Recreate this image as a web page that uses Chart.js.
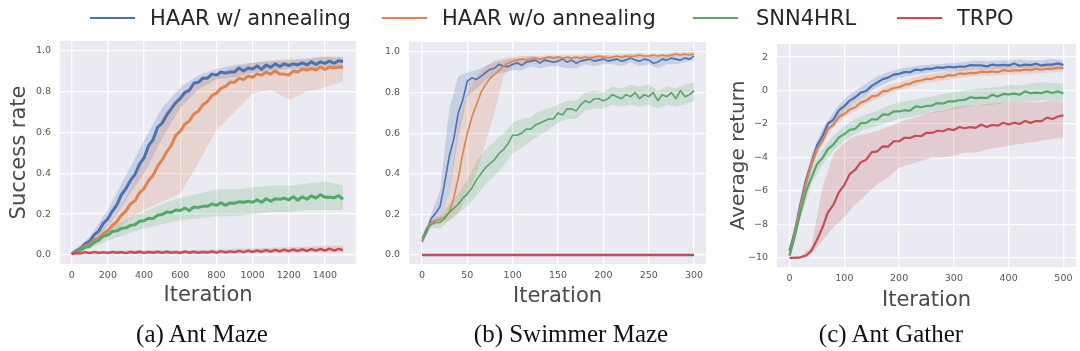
<!DOCTYPE html>
<html>
<head>
<meta charset="utf-8">
<script src="https://cdn.jsdelivr.net/npm/chart.js@4.4.1/dist/chart.umd.min.js"></script>
<style>
  html, body { margin:0; padding:0; background:#fff; }
  body { width:1080px; height:351px; position:relative; overflow:hidden; font-family:"DejaVu Sans", sans-serif; }
  canvas { position:absolute; left:0; top:0; }
  .ll { position:absolute; height:2px; top:17px; width:45px; }
  .lt { position:absolute; top:18px; transform:translateY(-50%); font-size:21px; line-height:1; color:#262626; white-space:nowrap; }
  .cap { position:absolute; top:333px; transform:translate(-50%,-50%); font-family:"Liberation Serif", "Times New Roman", serif; font-size:25px; line-height:1; color:#111; white-space:nowrap; }
</style>
</head>
<body>
<canvas id="cA" width="1080" height="351"></canvas>
<canvas id="cB" width="1080" height="351"></canvas>
<canvas id="cC" width="1080" height="351"></canvas>

<div class="ll" style="left:90px;background:#4c72b0"></div><div class="lt" style="left:150px">HAAR w/ annealing</div>
<div class="ll" style="left:382px;background:#dd8452"></div><div class="lt" style="left:442px">HAAR w/o annealing</div>
<div class="ll" style="left:693px;background:#55a868"></div><div class="lt" style="left:756px">SNN4HRL</div>
<div class="ll" style="left:897px;background:#c44e52"></div><div class="lt" style="left:957px">TRPO</div>

<div class="cap" style="left:202px">(a) Ant Maze</div>
<div class="cap" style="left:571px">(b) Swimmer Maze</div>
<div class="cap" style="left:891px">(c) Ant Gather</div>

<script>
// ---------------- DATA ----------------
const seriesNames = ["HAAR w/ annealing", "HAAR w/o annealing", "SNN4HRL", "TRPO"];

// (a) Ant Maze: iterations 0..1500 step 25
const itersA = Array.from({length:61}, (_, i) => i * 25);
const blueA = [0.005,0.022,0.033,0.055,0.068,0.1,0.117,0.155,0.177,0.215,
  0.245,0.295,0.325,0.365,0.395,0.445,0.475,0.535,0.565,0.625,
  0.645,0.685,0.715,0.745,0.765,0.795,0.805,0.84,0.845,0.865,
  0.865,0.885,0.88,0.895,0.89,0.895,0.895,0.915,0.9,0.915,
  0.91,0.925,0.908,0.93,0.918,0.935,0.922,0.935,0.927,0.935,
  0.93,0.94,0.93,0.945,0.932,0.945,0.938,0.948,0.938,0.95,0.947];
const orangeA = [0.005,0.018,0.028,0.043,0.053,0.075,0.083,0.105,0.118,0.145,
  0.163,0.195,0.215,0.25,0.265,0.305,0.325,0.365,0.39,0.435,
  0.465,0.505,0.535,0.585,0.605,0.64,0.655,0.69,0.703,0.735,
  0.75,0.78,0.792,0.815,0.825,0.845,0.845,0.865,0.858,0.875,
  0.87,0.885,0.88,0.895,0.885,0.9,0.885,0.885,0.88,0.9,
  0.895,0.91,0.905,0.912,0.905,0.92,0.908,0.92,0.915,0.92,0.918];
const greenA = [0.005,0.018,0.023,0.038,0.043,0.063,0.073,0.093,0.098,0.115,
  0.118,0.13,0.133,0.145,0.148,0.165,0.168,0.18,0.178,0.195,
  0.198,0.21,0.208,0.22,0.218,0.23,0.218,0.235,0.233,0.238,
  0.238,0.25,0.243,0.255,0.243,0.255,0.253,0.26,0.258,0.263,
  0.258,0.27,0.258,0.275,0.263,0.275,0.273,0.278,0.27,0.285,
  0.268,0.285,0.273,0.29,0.278,0.295,0.283,0.283,0.28,0.29,0.273];
const redA = [0.005,0.01,0.008,0.014,0.009,0.015,0.01,0.014,0.01,0.015,
  0.011,0.014,0.009,0.015,0.011,0.016,0.01,0.015,0.011,0.016,
  0.01,0.016,0.011,0.014,0.01,0.017,0.011,0.016,0.011,0.015,
  0.012,0.018,0.012,0.019,0.013,0.018,0.014,0.02,0.014,0.021,
  0.015,0.022,0.016,0.024,0.017,0.025,0.018,0.026,0.019,0.027,
  0.02,0.028,0.02,0.029,0.021,0.03,0.021,0.031,0.022,0.03,0.024];
// (a) bands: iterations 0..1500 step 100
const bandItersA = Array.from({length:16}, (_, i) => i * 100);
const blueLoA = [0,0.05,0.14,0.27,0.40,0.57,0.72,0.81,0.86,0.87,0.89,0.90,0.91,0.91,0.92,0.92];
const blueHiA = [0.01,0.09,0.22,0.39,0.56,0.72,0.82,0.88,0.91,0.93,0.94,0.95,0.95,0.96,0.97,0.97];
const orangeLoA = [0,0.04,0.09,0.16,0.22,0.26,0.30,0.45,0.61,0.70,0.79,0.81,0.76,0.80,0.82,0.85];
const orangeHiA = [0.01,0.07,0.15,0.28,0.48,0.67,0.79,0.85,0.885,0.92,0.94,0.95,0.96,0.96,0.97,0.96];
const greenLoA = [0,0.03,0.07,0.10,0.13,0.15,0.17,0.18,0.19,0.19,0.20,0.21,0.21,0.22,0.22,0.22];
const greenHiA = [0.01,0.06,0.13,0.17,0.21,0.25,0.28,0.30,0.32,0.32,0.33,0.34,0.34,0.35,0.36,0.34];
const redLoA = [0,0.003,0.005,0.005,0.005,0.005,0.005,0.005,0.005,0.007,0.008,0.01,0.01,0.012,0.013,0.013];
const redHiA = [0.01,0.018,0.02,0.025,0.025,0.025,0.025,0.025,0.027,0.03,0.032,0.035,0.038,0.04,0.045,0.045];

// (b) Swimmer Maze: iterations 0..300 step 5
const itersB = Array.from({length:61}, (_, i) => i * 5);
const blueB = [0.066,0.115,0.18,0.205,0.24,0.355,0.485,0.57,0.70,0.765,
  0.857,0.873,0.865,0.88,0.898,0.914,0.92,0.94,0.93,0.928,
  0.94,0.947,0.934,0.95,0.955,0.96,0.945,0.96,0.955,0.95,
  0.955,0.965,0.95,0.96,0.945,0.955,0.96,0.965,0.955,0.96,
  0.965,0.955,0.96,0.965,0.955,0.96,0.97,0.96,0.955,0.965,
  0.96,0.945,0.95,0.965,0.96,0.97,0.965,0.96,0.97,0.965,0.98];
const orangeB = [0.07,0.13,0.16,0.17,0.175,0.19,0.21,0.28,0.38,0.50,
  0.60,0.68,0.74,0.80,0.84,0.87,0.89,0.91,0.93,0.945,
  0.955,0.96,0.965,0.96,0.965,0.97,0.965,0.97,0.975,0.97,
  0.975,0.97,0.975,0.97,0.975,0.97,0.975,0.97,0.975,0.98,
  0.975,0.97,0.975,0.98,0.975,0.98,0.975,0.98,0.985,0.98,
  0.98,0.985,0.98,0.985,0.98,0.985,0.99,0.985,0.99,0.985,0.99];
const greenB = [0.08,0.13,0.15,0.16,0.16,0.18,0.21,0.23,0.25,0.28,
  0.30,0.33,0.37,0.40,0.43,0.45,0.47,0.50,0.52,0.55,
  0.59,0.59,0.60,0.62,0.62,0.64,0.65,0.66,0.67,0.67,
  0.70,0.69,0.72,0.72,0.71,0.74,0.76,0.75,0.77,0.77,
  0.76,0.77,0.79,0.78,0.77,0.79,0.78,0.80,0.77,0.79,
  0.78,0.80,0.76,0.79,0.78,0.80,0.77,0.81,0.78,0.79,0.81];
const trpoItersB = [0, 300];
const redB = [0, 0];
// (b) bands: iterations 0..300 step 10
const bandItersB = Array.from({length:31}, (_, i) => i * 10);
const blueLoB = [0.05,0.15,0.18,0.30,0.58,0.78,0.82,0.86,0.89,0.90,0.91,0.91,0.93,0.92,0.93,0.93,0.92,0.92,0.94,0.93,0.94,0.94,0.93,0.95,0.93,0.94,0.92,0.94,0.94,0.95,0.96];
const blueHiB = [0.08,0.20,0.32,0.72,0.88,0.90,0.91,0.93,0.95,0.96,0.97,0.97,0.98,0.97,0.98,0.98,0.97,0.97,0.98,0.98,0.985,0.98,0.98,0.99,0.98,0.985,0.975,0.985,0.985,0.99,0.995];
const orangeLoB = [0.06,0.14,0.16,0.17,0.20,0.30,0.40,0.55,0.70,0.88,0.93,0.94,0.95,0.95,0.96,0.96,0.96,0.96,0.96,0.96,0.965,0.965,0.965,0.965,0.975,0.97,0.97,0.97,0.98,0.98,0.98];
const orangeHiB = [0.08,0.18,0.19,0.30,0.65,0.80,0.88,0.93,0.96,0.97,0.975,0.98,0.98,0.98,0.985,0.985,0.985,0.985,0.985,0.99,0.985,0.985,0.99,0.99,0.995,0.99,0.99,0.99,1.0,1.0,1.0];
const greenLoB = [0.07,0.13,0.13,0.17,0.21,0.24,0.29,0.35,0.39,0.44,0.50,0.53,0.56,0.59,0.62,0.65,0.67,0.67,0.71,0.72,0.72,0.74,0.73,0.74,0.73,0.74,0.72,0.74,0.73,0.74,0.76];
const greenHiB = [0.09,0.17,0.19,0.25,0.30,0.37,0.46,0.52,0.56,0.60,0.65,0.67,0.68,0.71,0.72,0.74,0.76,0.76,0.80,0.81,0.80,0.83,0.82,0.84,0.83,0.84,0.81,0.83,0.82,0.84,0.85];

// (c) Ant Gather: iterations 0..500 step 10
const itersC = Array.from({length:51}, (_, i) => i * 10);
const blueC = [-9.56,-8.36,-6.76,-5.33,-4.33,-3.28,-2.73,-1.98,-1.73,-1.18,
  -0.93,-0.6,-0.4,-0.12,-0.03,0.28,0.47,0.68,0.77,0.95,
  1.0,1.1,1.1,1.25,1.22,1.3,1.3,1.38,1.35,1.42,
  1.38,1.43,1.42,1.52,1.5,1.5,1.44,1.55,1.5,1.53,
  1.5,1.62,1.48,1.55,1.52,1.6,1.5,1.55,1.55,1.62,1.52];
const orangeC = [-9.86,-8.46,-6.96,-5.53,-4.43,-3.5,-3.03,-2.3,-2.03,-1.58,
  -1.4,-1.12,-1.0,-0.72,-0.6,-0.35,-0.3,-0.05,0.0,0.15,
  0.2,0.35,0.4,0.55,0.6,0.7,0.7,0.82,0.8,0.92,
  0.9,1.02,1.0,1.05,1.04,1.13,1.1,1.15,1.1,1.22,
  1.18,1.2,1.2,1.25,1.22,1.3,1.24,1.3,1.3,1.35,1.34];
const greenC = [-9.86,-8.66,-7.26,-6.03,-5.2,-4.4,-4.03,-3.5,-3.23,-2.8,
  -2.6,-2.35,-2.28,-1.95,-1.93,-1.72,-1.73,-1.42,-1.45,-1.25,
  -1.25,-1.18,-1.2,-0.95,-1.0,-0.92,-0.9,-0.75,-0.78,-0.65,
  -0.65,-0.58,-0.56,-0.4,-0.45,-0.42,-0.45,-0.25,-0.36,-0.2,
  -0.23,-0.18,-0.25,-0.05,-0.16,-0.12,-0.15,-0.05,-0.15,-0.05,-0.18];
const redC = [-10,-10,-9.96,-9.86,-9.56,-8.93,-8.2,-7.28,-6.83,-6.08,
  -5.63,-4.98,-4.73,-4.28,-4.13,-3.68,-3.63,-3.33,-3.35,-3.03,
  -3.03,-2.82,-2.83,-2.7,-2.73,-2.52,-2.53,-2.4,-2.43,-2.3,
  -2.36,-2.18,-2.25,-2.18,-2.23,-2.03,-2.18,-2.05,-2.1,-1.92,
  -2.03,-1.92,-2.0,-1.82,-1.93,-1.82,-1.83,-1.62,-1.7,-1.55,-1.48];
// (c) bands: iterations 0..500 step 20
const bandItersC = Array.from({length:26}, (_, i) => i * 20);
const blueLoC = [-9.7,-7.1,-4.7,-3.0,-2.0,-1.2,-0.7,-0.3,0.2,0.5,0.75,0.9,1.0,1.1,1.15,1.15,1.2,1.25,1.25,1.3,1.3,1.35,1.3,1.3,1.35,1.3];
const blueHiC = [-9.4,-6.4,-3.8,-2.3,-1.3,-0.5,0.0,0.4,0.85,1.1,1.3,1.4,1.5,1.55,1.6,1.65,1.7,1.8,1.75,1.8,1.8,1.85,1.8,1.8,1.9,1.8];
const orangeLoC = [-9.95,-7.2,-4.7,-3.2,-2.2,-1.6,-1.2,-0.8,-0.5,-0.2,0.0,0.2,0.4,0.5,0.6,0.7,0.8,0.85,0.9,0.9,0.95,1.0,1.0,1.05,1.1,1.1];
const orangeHiC = [-9.7,-6.7,-4.0,-2.7,-1.7,-1.1,-0.7,-0.3,0.0,0.3,0.5,0.7,0.9,1.0,1.1,1.2,1.3,1.3,1.4,1.4,1.45,1.5,1.5,1.5,1.6,1.55];
const greenLoC = [-9.95,-7.6,-5.6,-4.4,-3.6,-3.0,-2.6,-2.3,-2.1,-1.9,-1.7,-1.6,-1.45,-1.35,-1.25,-1.1,-1.0,-0.9,-0.9,-0.8,-0.7,-0.7,-0.65,-0.6,-0.6,-0.65];
const greenHiC = [-9.7,-6.9,-4.7,-3.5,-2.7,-2.1,-1.7,-1.4,-1.2,-0.9,-0.7,-0.6,-0.45,-0.35,-0.2,-0.1,0.0,0.1,0.15,0.2,0.35,0.3,0.4,0.5,0.45,0.4];
const redLoC = [-10.05,-10.02,-9.8,-8.96,-8.16,-7.56,-6.8,-6.2,-5.6,-5.2,-4.6,-4.4,-4.2,-4.0,-4.0,-3.9,-3.7,-3.7,-3.5,-3.4,-3.3,-3.2,-3.1,-3.0,-2.9,-2.8];
const redHiC = [-9.95,-9.9,-9.3,-5.8,-3.8,-3.1,-2.7,-2.6,-2.4,-2.2,-1.9,-1.7,-1.5,-1.3,-1.2,-1.0,-0.9,-0.9,-0.8,-0.75,-0.7,-0.7,-0.7,-0.7,-0.6,-0.7];

// tick values
const xTicksA = [0,200,400,600,800,1000,1200,1400];
const yTicksA = [0,0.2,0.4,0.6,0.8,1.0];
const xTicksB = [0,50,100,150,200,250,300];
const yTicksB = [0,0.2,0.4,0.6,0.8,1.0];
const xTicksC = [0,100,200,300,400,500];
const yTicksC = [-10,-8,-6,-4,-2,0,2];

// ---------------- STYLE ----------------
const COLORS = ["#4c72b0", "#dd8452", "#55a868", "#c44e52"];
const BANDS = ["rgba(76,114,176,0.22)", "rgba(221,132,82,0.22)", "rgba(85,168,104,0.2)", "rgba(196,78,82,0.2)"];

const bgPlugin = {
  id: 'plotbg',
  beforeDraw(chart) {
    const {ctx, chartArea: a} = chart;
    ctx.save();
    ctx.fillStyle = '#eaeaf2';
    ctx.fillRect(a.left, a.top, a.right - a.left, a.bottom - a.top);
    ctx.restore();
  }
};

function pts(xs, ys) { return xs.map((x, i) => ({x: x, y: ys[i]})); }

function fmtDec(v) { return v.toFixed(1); }
function fmtInt(v) { return v < 0 ? '\u2212' + Math.abs(v) : String(v); }

function makeChart(id, p) {
  const datasets = [];
  const order = [3, 2, 1, 0];
  order.forEach((s, k) => {
    if (!p.lines[s]) return;
    datasets.push({
      label: seriesNames[s],
      data: pts(p.lines[s][0], p.lines[s][1]),
      borderColor: COLORS[s],
      borderWidth: p.lw[s],
      borderJoinStyle: 'round',
      pointRadius: 0,
      tension: 0,
      fill: false,
      order: k
    });
  });
  order.forEach((s, k) => {
    if (!p.bands[s]) return;
    const loIdx = datasets.length;
    datasets.push({
      label: seriesNames[s] + ' lo',
      data: pts(p.bands[s][0], p.bands[s][1]),
      borderWidth: 0, borderColor: 'rgba(0,0,0,0)', pointRadius: 0, tension: 0,
      fill: false, order: 20 + k
    });
    datasets.push({
      label: seriesNames[s] + ' hi',
      data: pts(p.bands[s][0], p.bands[s][2]),
      borderWidth: 0, borderColor: 'rgba(0,0,0,0)', pointRadius: 0, tension: 0,
      backgroundColor: BANDS[s],
      fill: loIdx, order: 20 + k
    });
  });

  const tickFont = {family: 'DejaVu Sans', size: 9.5};
  return new Chart(document.getElementById(id), {
    type: 'line',
    data: {datasets},
    plugins: [bgPlugin],
    options: {
      responsive: false, animation: false, events: [],
      devicePixelRatio: 1,
      layout: {padding: p.pad},
      plugins: {legend: {display: false}, tooltip: {enabled: false}},
      scales: {
        x: {
          type: 'linear', min: p.xr[0], max: p.xr[1],
          afterBuildTicks: s => { s.ticks = p.xt.map(v => ({value: v})); },
          afterFit: s => { s.height = p.xh; },
          ticks: {callback: v => String(v), font: tickFont, color: '#555', padding: 6, maxRotation: 0, autoSkip: false},
          grid: {color: '#ffffff', lineWidth: 1.3, drawTicks: false},
          border: {display: false},
          title: {display: true, text: 'Iteration', font: {family: 'DejaVu Sans', size: 21}, color: '#4a4a4a', padding: {top: 0, bottom: p.xtp}}
        },
        y: {
          type: 'linear', min: p.yr[0], max: p.yr[1],
          afterBuildTicks: s => { s.ticks = p.yt.map(v => ({value: v})); },
          afterFit: s => { s.width = p.yw; },
          ticks: {callback: p.fmt, font: tickFont, color: '#555', padding: 9, autoSkip: false},
          grid: {color: '#ffffff', lineWidth: 1.3, drawTicks: false},
          border: {display: false},
          title: {display: !!p.ytitle, text: p.ytitle || '', font: {family: 'DejaVu Sans', size: p.ytsize || 21}, color: '#4a4a4a', padding: {top: p.ytp, bottom: 0}}
        }
      }
    }
  });
}

makeChart('cA', {
  lines: [[itersA, blueA], [itersA, orangeA], [itersA, greenA], [itersA, redA]],
  bands: [[bandItersA, blueLoA, blueHiA], [bandItersA, orangeLoA, orangeHiA], [bandItersA, greenLoA, greenHiA], [bandItersA, redLoA, redHiA]],
  lw: [3.0, 3.0, 3.0, 2.4],
  pad: {left: 0, right: 724, top: 41, bottom: 37},
  xr: [-64.7, 1571.6], yr: [-0.044, 1.047],
  xt: xTicksA, yt: yTicksA, fmt: fmtDec,
  xh: 50, yw: 60, xtp: 6, ytitle: 'Success rate', ytp: 7
});

makeChart('cB', {
  lines: [[itersB, blueB], [itersB, orangeB], [itersB, greenB], [trpoItersB, redB]],
  bands: [[bandItersB, blueLoB, blueHiB], [bandItersB, orangeLoB, orangeHiB], [bandItersB, greenLoB, greenHiB], null],
  lw: [1.6, 1.6, 1.6, 2.6],
  pad: {left: 369, right: 374, top: 42, bottom: 37},
  xr: [-14.35, 313.2], yr: [-0.0444, 1.0493],
  xt: xTicksB, yt: yTicksB, fmt: fmtDec,
  xh: 50, yw: 40, xtp: 5, ytitle: null, ytp: 0
});

makeChart('cC', {
  lines: [[itersC, blueC], [itersC, orangeC], [itersC, greenC], [itersC, redC]],
  bands: [[bandItersC, blueLoC, blueHiC], [bandItersC, orangeLoC, orangeHiC], [bandItersC, greenLoC, greenHiC], [bandItersC, redLoC, redHiC]],
  lw: [2.2, 2.2, 2.2, 2.2],
  pad: {left: 720, right: 4, top: 44, bottom: 34},
  xr: [-23, 523], yr: [-10.54, 2.78],
  xt: xTicksC, yt: yTicksC, fmt: fmtInt,
  xh: 50, yw: 57, xtp: 4, ytitle: 'Average return', ytsize: 20, ytp: 7
});
</script>
</body>
</html>
